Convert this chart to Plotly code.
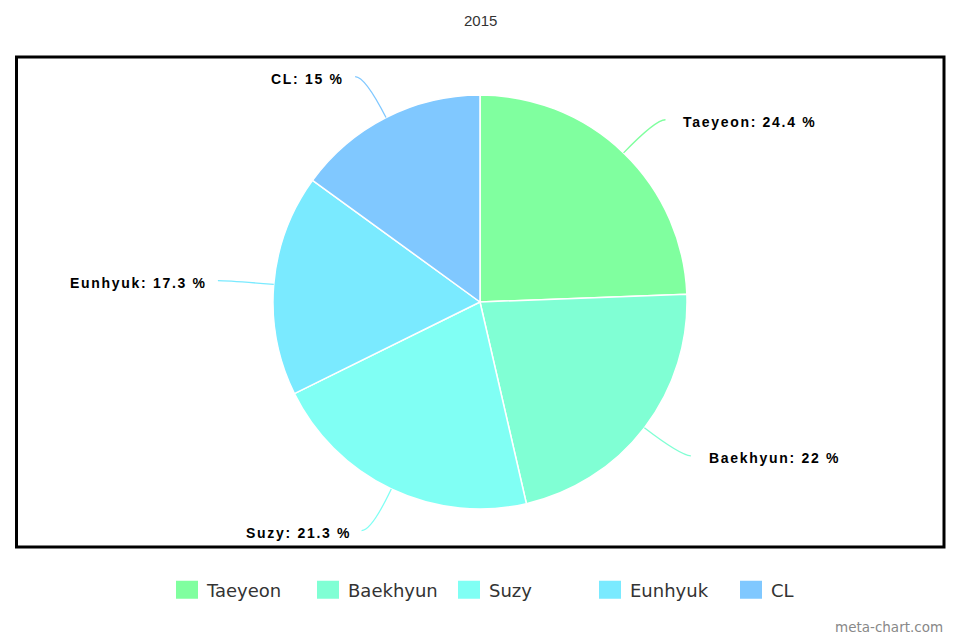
import math
import plotly.graph_objects as go

chart_title = "2015"
names = ["Taeyeon", "Baekhyun", "Suzy", "Eunhyuk", "CL"]
values = [24.4, 22, 21.3, 17.3, 15]
colors = ["#80FF9F", "#80FFD4", "#80FFF4", "#7AEAFF", "#80C8FF"]
watermark = "meta-chart.com"

W, H = 960, 640
cx, cy, R = 480, 302, 207


def px(x):
    return x / W


def py(y):
    return 1 - y / H


fig = go.Figure(go.Pie(
    labels=names, values=values, sort=False, direction="clockwise", rotation=0,
    marker=dict(colors=colors, line=dict(color="white", width=1.5)),
    textinfo="none", hoverinfo="label+percent",
    domain=dict(x=[px(cx - R), px(cx + R)], y=[py(cy + R), py(cy - R)]),
))

shapes = []
annotations = []
total = sum(values)
cum = 0
for name, v, col in zip(names, values, colors):
    mid = (cum + v / 2) / total * 2 * math.pi
    cum += v
    s, c = math.sin(mid), math.cos(mid)
    x0, y0 = cx + R * s, cy - R * c
    xc, yc = cx + (R + 46) * s, cy - (R + 46) * c
    side = 1 if s >= 0 else -1
    xe, ye = xc + side * 10, yc
    path = f"M {px(x0)},{py(y0)} Q {px(xc)},{py(yc)} {px(xe)},{py(ye)}"
    shapes.append(dict(type="path", path=path, xref="paper", yref="paper",
                       line=dict(color=col, width=1.3)))
    pct = f"{v:g}"
    gap = 16 if side > 0 else 9
    annotations.append(dict(
        x=px(xe + side * gap), y=py(ye + 2.5), xref="paper", yref="paper",
        xanchor="left" if side > 0 else "right", yanchor="middle", showarrow=False,
        text=f"<b><span style='letter-spacing:1.7px'>{name}: {pct} %</span></b>",
        font=dict(family="Liberation Sans, Arial", size=14, color="#000000"),
    ))

shapes.append(dict(type="rect", xref="paper", yref="paper",
                   x0=px(16.5), x1=px(944), y0=py(547), y1=py(57),
                   line=dict(color="black", width=3)))

annotations.append(dict(x=0.5, y=py(20), xref="paper", yref="paper", showarrow=False,
                        text=chart_title, xanchor="center", yanchor="middle",
                        font=dict(family="Liberation Sans, Arial", size=15, color="#333333")))
annotations.append(dict(x=px(945), y=py(627), xref="paper", yref="paper", showarrow=False,
                        text=watermark, xanchor="right", yanchor="middle",
                        font=dict(family="DejaVu Sans", size=13.5, color="#888888")))

fig.update_layout(
    width=W, height=H, margin=dict(l=0, r=0, t=0, b=0),
    paper_bgcolor="white", plot_bgcolor="white",
    shapes=shapes, annotations=annotations,
    showlegend=True,
    legend=dict(orientation="h", x=px(167), xanchor="left", y=py(590), yanchor="middle",
                font=dict(family="DejaVu Sans", size=18, color="#333333"),
                itemwidth=30, traceorder="normal",
                entrywidth=96, entrywidthmode="pixels"),
)

post = """
document.body.style.margin='0';
document.querySelectorAll('.legendpoints path').forEach(function(p){
  p.setAttribute('transform','translate(20,0) scale(2.1,1.7)');
});
"""
fig.write_html("out.html", post_script=post, config={"displayModeBar": False})
